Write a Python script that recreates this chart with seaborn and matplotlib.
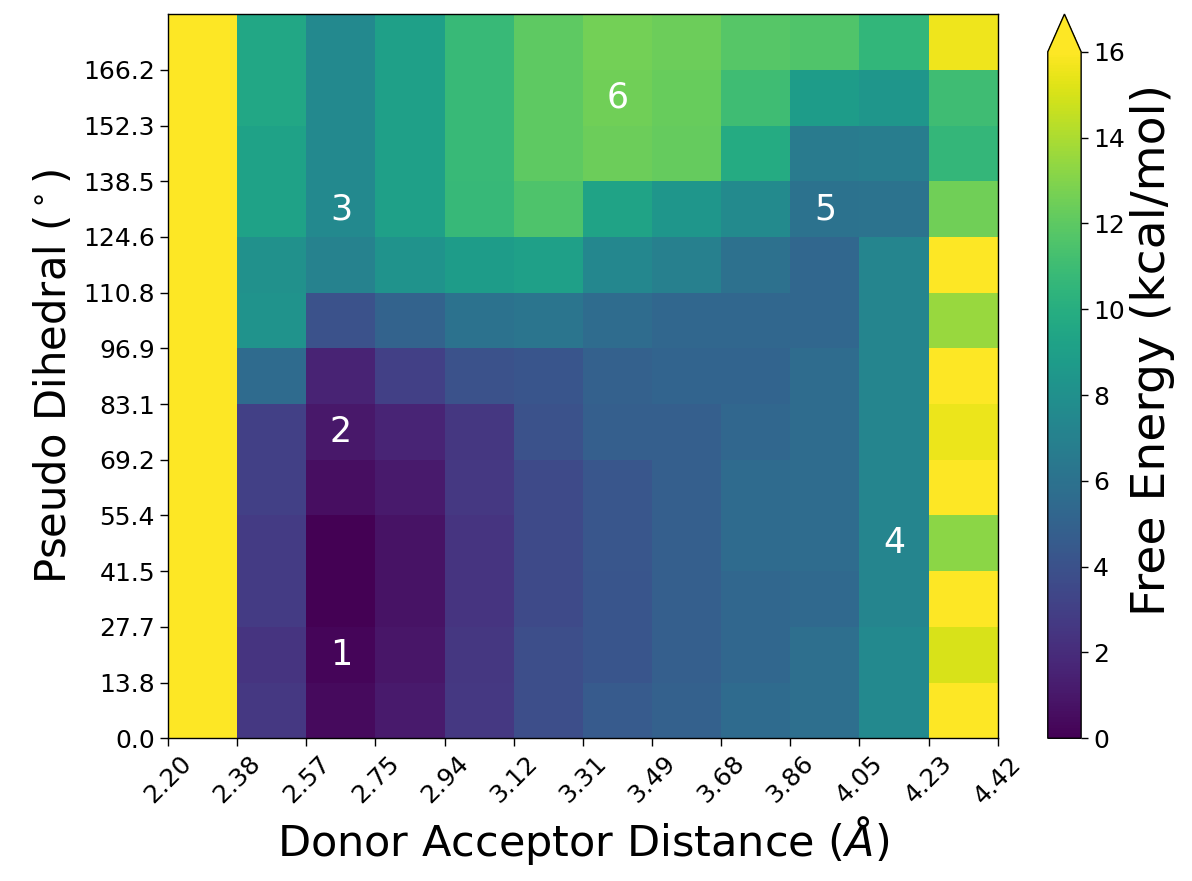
import numpy as np
import pandas as pd
import matplotlib
matplotlib.use("Agg")
import matplotlib.pyplot as plt
import seaborn as sns

# Bin edges (tick labels)
distance_edges = ["2.20", "2.38", "2.57", "2.75", "2.94", "3.12", "3.31",
                  "3.49", "3.68", "3.86", "4.05", "4.23", "4.42"]
dihedral_edges = ["0.0", "13.8", "27.7", "41.5", "55.4", "69.2", "83.1",
                  "96.9", "110.8", "124.6", "138.5", "152.3", "166.2"]

# Free energy per cell, rows listed top (166.2-180) to bottom (0-13.8)
row_12 = [17, 9.5, 7.5, 9.0, 10.8, 12.0, 12.6, 12.4, 11.8, 11.6, 10.5, 15.6]
row_11 = [17, 9.5, 7.5, 9.0, 10.8, 12.0, 12.5, 12.3, 11.0, 8.8, 8.4, 11.0]
row_10 = [17, 9.2, 7.5, 9.0, 10.8, 12.0, 12.4, 12.2, 9.8, 6.6, 6.7, 10.6]
row_9 = [17, 9.2, 7.5, 9.0, 10.7, 11.5, 9.3, 8.4, 7.6, 6.0, 6.1, 12.5]
row_8 = [17, 8.0, 7.0, 8.2, 8.8, 9.0, 7.4, 6.9, 5.9, 5.3, 7.3, 17]
row_7 = [17, 8.2, 4.0, 5.0, 6.0, 6.2, 5.6, 5.3, 5.3, 5.3, 7.3, 13.5]
row_6 = [17, 5.5, 1.5, 3.0, 4.0, 4.2, 4.9, 5.1, 5.1, 5.6, 7.3, 17]
row_5 = [17, 3.0, 1.0, 1.6, 2.5, 4.0, 4.8, 4.8, 5.3, 5.6, 7.3, 15.5]
row_4 = [17, 3.0, 0.6, 1.1, 2.6, 3.6, 4.3, 4.8, 5.5, 5.6, 7.3, 17]
row_3 = [17, 2.8, 0.0, 0.8, 2.4, 3.6, 4.3, 4.8, 5.5, 5.6, 7.3, 13.2]
row_2 = [17, 2.8, 0.05, 0.8, 2.4, 3.6, 4.2, 4.8, 5.3, 5.4, 7.3, 17]
row_1 = [17, 2.4, 0.2, 0.9, 2.5, 3.8, 4.2, 4.8, 5.3, 5.8, 7.5, 15.0]
row_0 = [17, 2.6, 0.4, 1.1, 2.6, 3.8, 4.5, 4.9, 5.5, 5.8, 7.5, 17]

# State labels: (label, column index, row index from top)
state_labels = ["1", "2", "3", "4", "5", "6"]
state_cols = [2, 2, 2, 10, 9, 6]
state_rows = [11, 7, 3, 9, 3, 1]

rows = [row_12, row_11, row_10, row_9, row_8, row_7, row_6,
        row_5, row_4, row_3, row_2, row_1, row_0]
df = pd.DataFrame(rows)

fig = plt.figure(figsize=(11.92, 8.81), dpi=100)
ax = fig.add_axes([0.141, 0.162, 0.696, 0.822])
cax = fig.add_axes([0.879, 0.162, 0.028, 0.822])

sns.heatmap(df, cmap="viridis", vmin=0, vmax=16, ax=ax, cbar_ax=cax,
            cbar_kws={"extend": "max", "extendfrac": 0.055},
            xticklabels=False, yticklabels=False)

for s in ax.spines.values():
    s.set_visible(True)
    s.set_color("black")
    s.set_linewidth(1.0)

ax.set_xticks(np.arange(len(distance_edges)))
ax.set_xticklabels(distance_edges, rotation=45, fontsize=18)
ax.set_yticks(np.arange(1, len(dihedral_edges) + 1)[::-1])
ax.set_yticklabels(dihedral_edges, rotation=0, fontsize=18)
ax.tick_params(axis="both", length=6, width=1, direction="out",
               bottom=True, left=True)

ax.set_xlabel(r"Donor Acceptor Distance ($\AA$)", fontsize=31)
ax.set_ylabel(r"Pseudo Dihedral ($^\circ$)", fontsize=30, labelpad=6)

for lab, c, r in zip(state_labels, state_cols, state_rows):
    ax.text(c + 0.5, r + 0.5, lab, color="white", fontsize=25,
            ha="center", va="center")

cbar = ax.collections[0].colorbar
cbar.outline.set_visible(True)
cbar.outline.set_linewidth(1.0)
cbar.outline.set_edgecolor("black")
cbar.set_ticks([0, 2, 4, 6, 8, 10, 12, 14, 16])
cbar.ax.tick_params(labelsize=18, length=5, width=1)
cbar.set_label("Free Energy (kcal/mol)", fontsize=34, y=0.565)

fig.savefig("out.png", dpi=100)
